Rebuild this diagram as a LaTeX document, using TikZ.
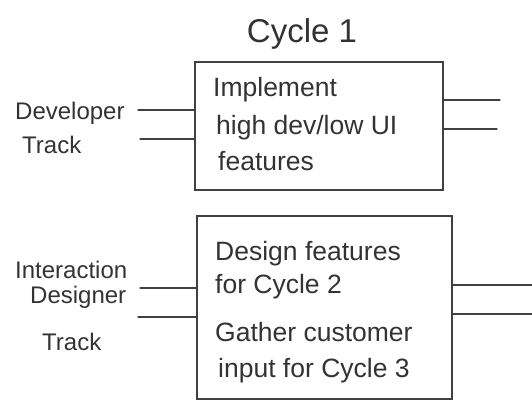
\documentclass[tikz,border=0pt]{standalone}
\usepackage{fontspec}
\setmainfont{Liberation Sans}
\begin{document}
\begin{tikzpicture}[x=1pt,y=-1pt,
  ink/.style={draw=black!75,line width=1.3pt,line cap=round},
  phase/.style={ink,rectangle,inner sep=0pt},
  lbl/.style={anchor=base west,inner sep=0pt,text=black!80,font=\fontsize{24}{28}\selectfont},
  inbox/.style={lbl,font=\fontsize{26.5}{30}\selectfont},
  head/.style={anchor=base,inner sep=0pt,text=black!80,font=\fontsize{33}{36}\selectfont},
  wire/.style={ink}]
\useasboundingbox (0,0) rectangle (532,409);

% title
\node[head] (title) at (302,43) {Cycle 1};

% developer track
\node[phase,minimum width=248pt,minimum height=128pt] (dev) at (319,126) {};
\node[inbox] (dev1) at (213,96) {Implement};
\node[inbox] (dev2) at (216,135) {high dev/low UI};
\node[inbox] (dev3) at (218,170) {features};
\node[lbl] (devA) at (15,120) {Developer};
\node[lbl] (devB) at (22,153) {Track};
\coordinate (din1) at (138,110);
\coordinate (din2) at (140,139);
\coordinate (dout1) at (500,100);
\coordinate (dout2) at (497,129);
\draw[wire] (din1) -- (din1 -| dev.west);
\draw[wire] (din2) -- (din2 -| dev.west);
\draw[wire] (dout1 -| dev.east) -- (dout1);
\draw[wire] (dout2 -| dev.east) -- (dout2);

% interaction designer track
\node[phase,minimum width=255pt,minimum height=183pt] (ixd) at (324.5,307.5) {};
\node[inbox] (ixd1) at (215,260) {Design features};
\node[inbox] (ixd2) at (215,293) {for Cycle 2};
\node[inbox] (ixd3) at (215,341) {Gather customer};
\node[inbox] (ixd4) at (218,377) {input for Cycle 3};
\node[lbl] (ixdA) at (15,278) {Interaction};
\node[lbl] (ixdB) at (30,303) {Designer};
\node[lbl] (ixdC) at (42,350) {Track};
\coordinate (iin1) at (140,288);
\coordinate (iin2) at (138,317);
\coordinate (iout1) at (532,285);
\coordinate (iout2) at (532,314);
\draw[wire] (iin1) -- (iin1 -| ixd.west);
\draw[wire] (iin2) -- (iin2 -| ixd.west);
\draw[wire] (iout1 -| ixd.east) -- (iout1);
\draw[wire] (iout2 -| ixd.east) -- (iout2);
\end{tikzpicture}
\end{document}
